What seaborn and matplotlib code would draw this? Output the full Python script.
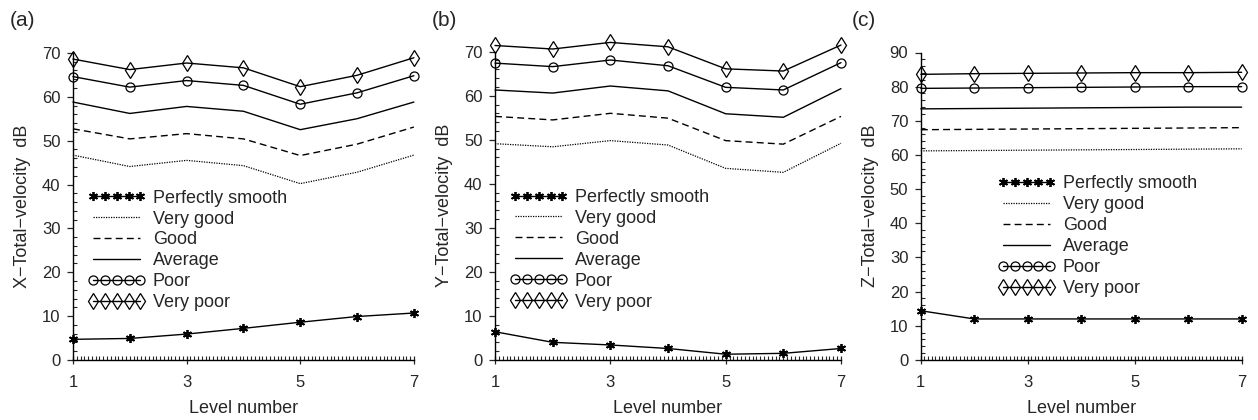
import numpy as np
import pandas as pd
import matplotlib
matplotlib.use("Agg")
import matplotlib.pyplot as plt
from matplotlib.ticker import MultipleLocator, FixedLocator
import seaborn as sns

sns.set_theme(style="ticks")
plt.rcParams['font.family'] = ['Liberation Sans', 'DejaVu Sans']

levels = [1, 2, 3, 4, 5, 6, 7]
series_names = ["Perfectly smooth", "Very good", "Good", "Average", "Poor", "Very poor"]

x_smooth = [4.7, 4.9, 5.9, 7.2, 8.6, 9.9, 10.7]
x_vgood = [46.7, 44.1, 45.5, 44.3, 40.2, 42.8, 46.7]
x_good = [52.7, 50.4, 51.6, 50.4, 46.6, 49.2, 53.1]
x_avg = [58.8, 56.2, 57.8, 56.7, 52.5, 55.0, 58.8]
x_poor = [64.6, 62.2, 63.7, 62.6, 58.3, 60.9, 64.8]
x_vpoor = [68.6, 66.2, 67.7, 66.6, 62.3, 64.9, 68.9]

y_smooth = [6.4, 4.0, 3.4, 2.6, 1.3, 1.5, 2.6]
y_vgood = [49.1, 48.4, 49.8, 48.8, 43.5, 42.6, 49.2]
y_good = [55.3, 54.5, 56.0, 54.9, 49.8, 49.0, 55.3]
y_avg = [61.3, 60.6, 62.2, 61.1, 55.9, 55.1, 61.6]
y_poor = [67.4, 66.6, 68.1, 66.8, 61.9, 61.3, 67.5]
y_vpoor = [71.4, 70.6, 72.1, 71.1, 66.1, 65.6, 71.5]

z_smooth = [14.4, 12.0, 12.0, 12.0, 12.0, 12.0, 12.0]
z_vgood = [61.2, 61.3, 61.4, 61.5, 61.6, 61.7, 61.8]
z_good = [67.4, 67.5, 67.6, 67.7, 67.8, 67.9, 68.0]
z_avg = [73.5, 73.6, 73.7, 73.8, 73.9, 74.0, 74.0]
z_poor = [79.5, 79.6, 79.7, 79.8, 79.9, 80.0, 80.0]
z_vpoor = [83.6, 83.8, 83.9, 84.0, 84.1, 84.1, 84.2]

panels = [
    ("(a)", "X\u2212Total\u2212velocity  dB", 70, [x_smooth, x_vgood, x_good, x_avg, x_poor, x_vpoor]),
    ("(b)", "Y\u2212Total\u2212velocity  dB", 70, [y_smooth, y_vgood, y_good, y_avg, y_poor, y_vpoor]),
    ("(c)", "Z\u2212Total\u2212velocity  dB", 90, [z_smooth, z_vgood, z_good, z_avg, z_poor, z_vpoor]),
]

styles = [
    dict(linestyle='-', marker=(6, 2, 0), markersize=6.5, markeredgewidth=1.3),
    dict(linestyle=(0, (1, 1)), marker=None, linewidth=0.9),
    dict(linestyle=(0, (5, 3)), marker=None),
    dict(linestyle='-', marker='o', markersize=6.5, markerfacecolor='none') if False else dict(linestyle='-', marker=None),
    dict(linestyle='-', marker='o', markersize=6.5, markerfacecolor='none'),
    dict(linestyle='-', marker='d', markersize=8.5, markerfacecolor='none'),
]

fig = plt.figure(figsize=(12.58, 4.2), dpi=100)
axes_pos = [
    [0.058, 0.143, 0.271, 0.731],
    [0.3935, 0.143, 0.275, 0.734],
    [0.732, 0.143, 0.255, 0.732],
]
legend_pos = [(0.044, 0.555), (0.043, 0.555), (0.24, 0.60)]
label_x = [0.008, 0.343, 0.677]

for i, (tag, ylab, ymax, data) in enumerate(panels):
    ax = fig.add_axes(axes_pos[i])
    for name, vals, st in zip(series_names, data, styles):
        st = dict(st)
        lw = st.pop('linewidth', 1.0)
        mew = st.pop('markeredgewidth', 0.9)
        sns.lineplot(x=levels, y=vals, ax=ax, color='black', linewidth=lw,
                     markeredgecolor='black', markeredgewidth=mew,
                     clip_on=False, label=name, **st)
    ax.set_xlim(1, 7)
    ax.set_ylim(0, ymax)
    ax.xaxis.set_major_locator(FixedLocator([1, 3, 5, 7]))
    ax.xaxis.set_minor_locator(MultipleLocator(1 / 15))
    ax.yaxis.set_major_locator(MultipleLocator(10))
    ax.yaxis.set_minor_locator(MultipleLocator(2))
    ax.tick_params(axis='y', which='major', direction='out', length=4, width=0.9, labelsize=12, pad=5)
    ax.tick_params(axis='y', which='minor', direction='in', length=3, width=0.8)
    ax.tick_params(axis='x', which='major', direction='inout', length=6, width=0.9, labelsize=12, pad=8)
    ax.tick_params(axis='x', which='minor', direction='in', length=3, width=0.8)
    for s in ['top', 'right']:
        ax.spines[s].set_visible(False)
    for s in ['left', 'bottom']:
        ax.spines[s].set_linewidth(1.0)
        ax.spines[s].set_color('black')
    ax.set_xlabel("Level number", fontsize=13, labelpad=7)
    ax.set_ylabel(ylab, fontsize=13, labelpad=8)
    h, l = ax.get_legend_handles_labels()
    ax.legend(h, l, loc='upper left', bbox_to_anchor=legend_pos[i], frameon=False,
              numpoints=5, handlelength=3.2, handletextpad=0.4, labelspacing=0.22,
              fontsize=13, borderaxespad=0, borderpad=0)
    fig.text(label_x[i], 0.975, tag, fontsize=15, va='top', ha='left')

fig.savefig("out.png", dpi=100, facecolor='white')
